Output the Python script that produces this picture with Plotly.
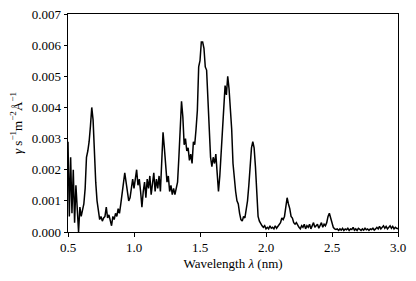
import plotly.graph_objects as go

wavelength_nm = [
    0.50, 0.51, 0.52, 0.53, 0.54, 0.55, 0.56, 0.57, 0.58, 0.59,
    0.60, 0.61, 0.62, 0.63, 0.64, 0.65, 0.66, 0.67, 0.68, 0.69,
    0.70, 0.71, 0.72, 0.73, 0.74, 0.75, 0.76, 0.77, 0.78, 0.79,
    0.80, 0.81, 0.82, 0.83, 0.84, 0.85, 0.86, 0.87, 0.88, 0.89,
    0.90, 0.91, 0.92, 0.93, 0.94, 0.95, 0.96, 0.97, 0.98, 0.99,
    1.00, 1.01, 1.02, 1.03, 1.04, 1.05, 1.06, 1.07, 1.08, 1.09,
    1.10, 1.11, 1.12, 1.13, 1.14, 1.15, 1.16, 1.17, 1.18, 1.19,
    1.20, 1.21, 1.22, 1.23, 1.24, 1.25, 1.26, 1.27, 1.28, 1.29,
    1.30, 1.31, 1.32, 1.33, 1.34, 1.35, 1.36, 1.37, 1.38, 1.39,
    1.40, 1.41, 1.42, 1.43, 1.44, 1.45, 1.46, 1.47, 1.48, 1.49,
    1.50, 1.51, 1.52, 1.53, 1.54, 1.55, 1.56, 1.57, 1.58, 1.59,
    1.60, 1.61, 1.62, 1.63, 1.64, 1.65, 1.66, 1.67, 1.68, 1.69,
    1.70, 1.71, 1.72, 1.73, 1.74, 1.75, 1.76, 1.77, 1.78, 1.79,
    1.80, 1.81, 1.82, 1.83, 1.84, 1.85, 1.86, 1.87, 1.88, 1.89,
    1.90, 1.91, 1.92, 1.93, 1.94, 1.95, 1.96, 1.97, 1.98, 1.99,
    2.00, 2.01, 2.02, 2.03, 2.04, 2.05, 2.06, 2.07, 2.08, 2.09,
    2.10, 2.11, 2.12, 2.13, 2.14, 2.15, 2.16, 2.17, 2.18, 2.19,
    2.20, 2.21, 2.22, 2.23, 2.24, 2.25, 2.26, 2.27, 2.28, 2.29,
    2.30, 2.31, 2.32, 2.33, 2.34, 2.35, 2.36, 2.37, 2.38, 2.39,
    2.40, 2.41, 2.42, 2.43, 2.44, 2.45, 2.46, 2.47, 2.48, 2.49,
    2.50, 2.51, 2.52, 2.53, 2.54, 2.55, 2.56, 2.57, 2.58, 2.59,
    2.60, 2.61, 2.62, 2.63, 2.64, 2.65, 2.66, 2.67, 2.68, 2.69,
    2.70, 2.71, 2.72, 2.73, 2.74, 2.75, 2.76, 2.77, 2.78, 2.79,
    2.80, 2.81, 2.82, 2.83, 2.84, 2.85, 2.86, 2.87, 2.88, 2.89,
    2.90, 2.91, 2.92, 2.93, 2.94, 2.95, 2.96, 2.97, 2.98, 2.99,
    3.00,
]

# photon flux in units of 1e-3 photons s^-1 m^-2 A^-1
flux_milli = [
    2.9, 0.5, 2.4, 0.6, 2.0, 0.3, 1.5, 0.8, 0.0, 0.8,
    0.5, 0.7, 0.9, 1.4, 2.4, 2.6, 2.9, 3.4, 4.0, 3.6,
    2.4, 1.6, 1.0, 0.6, 0.4, 0.5, 0.35, 0.45, 0.5, 0.8,
    0.45, 0.55, 0.4, 0.2, 0.5, 0.4, 0.6, 0.5, 0.75, 0.6,
    0.9, 1.3, 1.6, 1.9, 1.6, 1.3, 1.0, 1.1, 1.5, 1.7,
    1.4, 1.8, 2.0, 1.5, 1.7, 1.3, 0.8, 1.3, 1.6, 1.1,
    1.7, 1.4, 1.8, 1.2, 1.6, 1.9, 1.3, 1.7, 1.4, 1.8,
    1.3, 2.1, 3.2, 2.7, 2.0, 1.6, 1.8, 1.3, 1.5, 1.2,
    1.4, 1.2, 1.4, 1.6, 2.4, 3.5, 4.2, 3.7, 2.8, 3.0,
    2.6, 2.7, 2.3, 2.5, 2.2, 2.9, 2.8, 3.3, 3.9, 5.3,
    5.5, 6.1, 6.1, 5.9, 5.3, 5.2, 4.2, 3.0, 2.4, 2.1,
    2.4, 2.2, 2.5, 1.9, 1.3, 1.8, 2.6, 3.5, 4.0, 4.7,
    4.4, 5.0, 4.6, 4.0, 3.3, 2.2, 1.6, 1.3, 1.0, 0.9,
    0.6, 0.4, 0.35, 0.5, 0.45, 0.7, 1.0, 1.5, 2.0, 2.7,
    2.9, 2.7, 2.1, 1.1, 0.5, 0.35, 0.25, 0.2, 0.15, 0.2,
    0.1, 0.15, 0.1, 0.2, 0.12, 0.15, 0.1, 0.2, 0.12, 0.18,
    0.2, 0.3, 0.45, 0.4, 0.5, 0.8, 1.1, 0.9, 0.75, 0.5,
    0.45, 0.3, 0.25, 0.3, 0.2, 0.15, 0.1, 0.2, 0.15, 0.25,
    0.1, 0.2, 0.15, 0.25, 0.1, 0.2, 0.3, 0.15, 0.2, 0.25,
    0.12, 0.2, 0.3, 0.15, 0.25, 0.2, 0.3, 0.5, 0.6, 0.45,
    0.25, 0.15, 0.1, 0.08, 0.1, 0.05, 0.1, 0.06, 0.12, 0.05,
    0.1, 0.07, 0.12, 0.05, 0.1, 0.08, 0.15, 0.06, 0.1, 0.05,
    0.12, 0.08, 0.05, 0.1, 0.06, 0.12, 0.07, 0.1, 0.05, 0.1,
    0.08, 0.12, 0.06, 0.1, 0.15, 0.1, 0.18, 0.1, 0.15, 0.2,
    0.12, 0.18, 0.1, 0.15, 0.2, 0.12, 0.18, 0.1, 0.15, 0.12,
    0.1,
]

flux = [v * 1e-3 for v in flux_milli]

x_ticks = [0.5, 1.0, 1.5, 2.0, 2.5, 3.0]
x_tick_labels = ["0.5", "1.0", "1.5", "2.0", "2.5", "3.0"]
y_ticks = [0.000, 0.001, 0.002, 0.003, 0.004, 0.005, 0.006, 0.007]
y_tick_labels = ["0.000", "0.001", "0.002", "0.003", "0.004", "0.005", "0.006", "0.007"]

FONT = "Liberation Serif"
TXT = "black"

fig = go.Figure()
fig.add_trace(go.Scatter(
    x=wavelength_nm, y=flux, mode="lines",
    line=dict(color="black", width=1.5),
    showlegend=False,
))

fig.update_layout(
    width=416, height=281,
    margin=dict(l=68, r=18, t=14, b=49),
    paper_bgcolor="white", plot_bgcolor="white",
    font=dict(family=FONT, size=13, color=TXT),
)
fig.update_xaxes(
    range=[0.5, 3.0], tickvals=x_ticks, ticktext=x_tick_labels,
    tickfont=dict(family=FONT, size=13, color=TXT),
    showline=True, linecolor="black", linewidth=1, mirror=True,
    ticks="outside", ticklen=3.5, tickwidth=0.8, tickcolor="black",
    showgrid=False, zeroline=False, automargin=False,
    title=dict(text="Wavelength <i>λ</i> (nm)", standoff=4,
               font=dict(family=FONT, size=13, color=TXT)),
)
fig.update_yaxes(
    range=[0, 0.007], tickvals=y_ticks, ticktext=y_tick_labels,
    tickfont=dict(family=FONT, size=13, color=TXT),
    showline=True, linecolor="black", linewidth=1, mirror=True,
    ticks="outside", ticklen=3.5, tickwidth=0.8, tickcolor="black",
    showgrid=False, zeroline=False, automargin=False,
    title=dict(text="<i>γ</i> s<sup>−1</sup>m<sup>−2</sup>Å<sup>−1</sup>", standoff=6,
               font=dict(family=FONT, size=13, color=TXT)),
)

fig.write_html("out.html", config={"displayModeBar": False},
               post_script="document.body.style.margin='0';")
